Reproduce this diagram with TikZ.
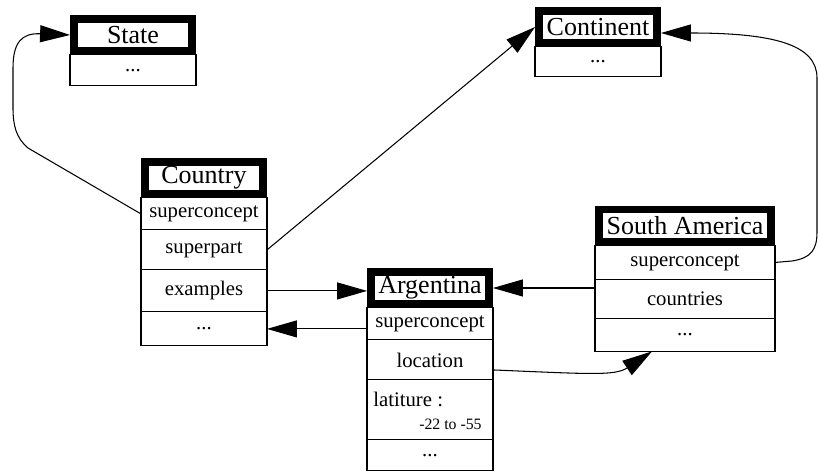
\documentclass[tikz,border=0pt]{standalone}
\usepackage{fontspec}
\setmainfont{Liberation Serif}
\usepackage{tikz}
\usetikzlibrary{calc,positioning,arrows.meta}

\tikzset{
  head/.style={draw=black, fill=white, line width=4.5pt, inner sep=0pt,
    minimum width=2.36cm, minimum height=0.64cm, font=\fontsize{14.8}{16}\selectfont},
  slot/.style={draw, line width=0.6pt, outer sep=0pt, inner sep=0pt,
    minimum width=2.52cm, font=\fontsize{11.8}{13}\selectfont},
  link/.style={line width=0.6pt, -{Triangle[length=0.6cm,width=0.34cm]}}
}

\begin{document}
\begin{tikzpicture}[x=0.02cm, y=-0.02cm]
  \useasboundingbox (0,0) rectangle (819,472);

  % headers
  \node[head] (state-h) at (133,35) {State};
  \node[head] (continent-h) at (598,27) {Continent};
  \node[head] (country-h) at (204,178) {Country};
  \node[head] (arg-h) at (430,288) {Argentina};
  \node[head, minimum width=3.44cm] (sa-h) at (685,225.5) {South America};

  % slots
  \node[slot, minimum height=0.62cm, below=0pt of state-h] (state-dots) {...};
  \node[slot, minimum height=0.6cm, below=0pt of continent-h] (continent-dots) {...};

  \node[slot, minimum height=0.64cm, below=0pt of country-h] (country-sc) {superconcept};
  \node[slot, minimum height=0.8cm, below=0pt of country-sc] (country-sp) {superpart};
  \node[slot, minimum height=0.84cm, below=0pt of country-sp] (country-ex) {examples};
  \node[slot, minimum height=0.68cm, below=0pt of country-ex] (country-dots) {...};

  \node[slot, minimum height=0.64cm, below=0pt of arg-h] (arg-sc) {superconcept};
  \node[slot, minimum height=0.8cm, below=0pt of arg-sc] (arg-loc) {location};
  \node[slot, minimum height=1.2cm, below=0pt of arg-loc] (arg-lat) {};
  \node[slot, minimum height=0.62cm, below=0pt of arg-lat] (arg-dots) {...};
  \node[anchor=west, inner sep=0pt, font=\fontsize{11.8}{13}\selectfont]
    (arg-lat-t) at ($(arg-lat.north west)+(6,20)$) {latiture :};
  \node[anchor=east, inner sep=0pt, font=\fontsize{9}{10}\selectfont]
    (arg-lat-v) at ($(arg-lat.north east)+(-11,44)$) {-22 to -55};

  \node[slot, minimum width=3.6cm, minimum height=0.68cm, below=0pt of sa-h] (sa-sc) {superconcept};
  \node[slot, minimum width=3.6cm, minimum height=0.78cm, below=0pt of sa-sc] (sa-co) {countries};
  \node[slot, minimum width=3.6cm, minimum height=0.66cm, below=0pt of sa-co] (sa-dots) {...};

  % links
  \draw[link] (country-sc.west) -- (28,148) .. controls (16,138) and (13,125) .. (13,108)
    -- (13,68) .. controls (13,42) and (22,33) .. (state-h.west);
  \draw[link] (country-sp.east) -- (continent-h.west);
  \draw[link] (country-ex.east) -- (country-ex.east -| arg-h.west);
  \draw[link] (arg-sc.west |- country-dots.east) -- (country-dots.east);
  \draw[link] (arg-h.east -| sa-co.west) -- (arg-h.east);
  \draw[link] (sa-sc.east) -- (792,261) .. controls (811,258) and (817,250) .. (817,232)
    -- (817,78) .. controls (817,45) and (775,33) .. ($(continent-h.east)+(0,6)$);
  \draw[link] ($(arg-loc.east)+(0,10)$) .. controls (590,374) and (615,376)
    .. ($(sa-dots.south)+(-33,0)$);
\end{tikzpicture}
\end{document}
